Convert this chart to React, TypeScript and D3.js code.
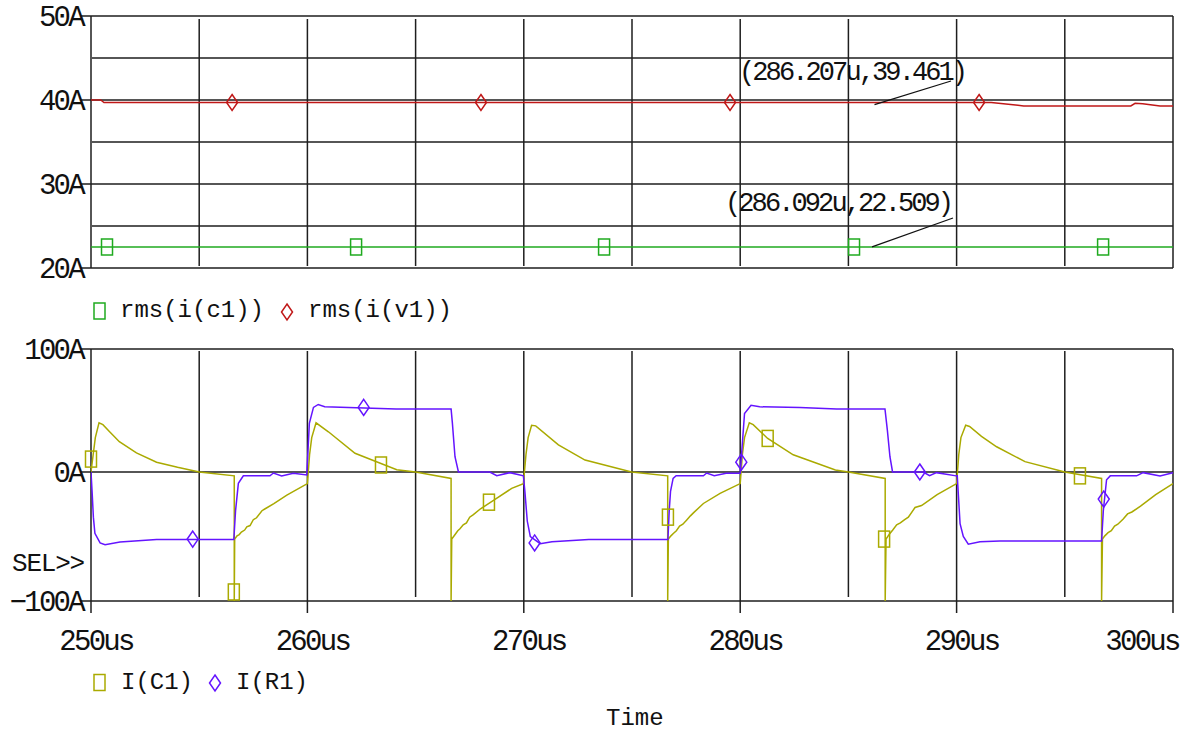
import React from 'react';
import * as d3 from 'd3';

// ---- data (time in us, current in A) ----
const rmsC1: [number, number][] = [
  [250, 22.5], [300, 22.5],
];
const rmsV1: [number, number][] = [
  [250, 40.0], [250.45, 40.0], [250.6, 39.7], [291.6, 39.7], [293.1, 39.3],
  [298.05, 39.3], [298.25, 39.6], [298.6, 39.55], [299.4, 39.3], [300, 39.3],
];
const rmsC1Markers: [number, number][] = [
  [250.74, 22.5], [262.25, 22.5], [273.71, 22.5], [285.26, 22.5], [296.77, 22.5],
];
const rmsV1Markers: [number, number][] = [
  [256.52, 39.7], [268.02, 39.7], [279.53, 39.7], [291.04, 39.7],
];

const iC1: [number, number][] = [
  // 250-260
  [250, 0], [250.1, 14], [250.2, 28], [250.37, 40], [250.55, 38.5], [250.85, 33],
  [251.31, 24.6], [252.1, 15.5], [253.03, 7.9], [254.0, 3.8], [255.0, 0], [256.62, -3],
  [256.62, -100], [256.64, -52], [256.75, -49.5], [256.85, -48.5], [256.95, -46.5],
  [257.1, -45], [257.2, -42.5], [257.35, -41.5], [257.5, -37], [257.65, -35.5],
  [257.9, -30], [258.05, -28.5], [258.45, -24.5], [259.05, -18], [260.0, -9],
  // 260-270
  [260.1, 14], [260.2, 28], [260.4, 40], [260.97, 32.7], [262.2, 15.2], [264.13, 1.9],
  [265.0, 0], [266.64, -5], [266.64, -100], [266.67, -52], [266.8, -49], [266.95, -45.5],
  [267.05, -44], [267.2, -41], [267.35, -39.5], [267.5, -35], [267.67, -33],
  [268.0, -28.5], [268.6, -22], [269.44, -12.7], [269.98, -9],
  // 270-280
  [270.1, 14], [270.2, 28], [270.36, 38], [270.55, 37.5], [271.6, 22], [272.83, 9.7],
  [274.98, 0], [276.65, -3], [276.65, -100], [276.68, -52], [276.8, -49.5],
  [276.91, -47.7], [277.05, -45.5], [277.2, -42], [277.35, -40.5], [277.52, -37.4],
  [277.7, -34], [277.85, -31.5], [278.3, -24.4], [279.07, -16.6], [280.0, -9],
  // 280-290
  [280.1, 14], [280.2, 28], [280.42, 40], [280.6, 38.5], [281.27, 27.3], [282.45, 14],
  [284.4, 1.6], [285.0, 0], [286.7, -5], [286.7, -100], [286.74, -52], [286.9, -48],
  [287.05, -45], [287.23, -41], [287.4, -39.5], [287.6, -37], [287.77, -35],
  [288.08, -27.5], [288.38, -26], [289.1, -17.5], [290.0, -9],
  // 290-300
  [290.1, 14], [290.2, 28], [290.42, 38], [290.6, 37], [291.15, 29], [291.85, 20.5],
  [293.16, 8.4], [295.0, 0], [296.7, -5], [296.7, -100], [296.74, -52], [296.85, -49.5],
  [297.0, -47], [297.15, -45.5], [297.3, -42], [297.45, -40.5], [297.7, -36.5],
  [297.9, -32.5], [298.1, -31], [298.5, -26.5], [299.2, -17.5], [300.0, -9],
];

const iR1: [number, number][] = [
  // 250-270
  [250, 0], [250.05, -15], [250.11, -35], [250.18, -47.5], [250.42, -55], [250.65, -56.3],
  [251.34, -54.2], [253.03, -52.4], [256.6, -52.4], [256.68, -30], [256.73, -21.8],
  [256.81, -8.8], [257.04, -3], [258.27, -3], [258.43, -0.8], [258.81, -3], [259.35, -1],
  [259.97, -2.3], [260.09, 39.5], [260.28, 52.5], [260.5, 54.9], [260.8, 53],
  [264.1, 51.3], [266.64, 51.3], [266.7, 39.7], [266.82, 12.4], [266.98, 0],
  [268.43, 0], [268.75, -2.9], [269.36, -0.5], [269.98, -2.9],
  // 270-290
  [270.05, -15], [270.16, -38], [270.3, -50], [270.76, -55.6], [271.3, -54],
  [273.0, -52.4], [276.66, -52.4], [276.72, -30], [276.78, -15], [276.9, -5],
  [277.04, -2.9], [278.3, -2.9], [278.45, -0.8], [278.8, -2.9], [279.35, -1],
  [280.0, -1], [280.2, 47.6], [280.5, 54.3], [280.9, 53], [282.76, 52.5],
  [284.46, 51.3], [286.69, 51.3], [286.8, 34], [286.92, 12.4], [287.04, 0],
  [288.46, 0], [288.75, -2.9], [289.07, -0.5], [289.98, -3],
  // 290-300
  [290.03, -3], [290.16, -40], [290.31, -50], [290.54, -56], [291.08, -54],
  [292.0, -53.4], [296.7, -53.4], [296.78, -30], [296.93, -6], [297.1, -3],
  [298.32, -3], [298.62, -0.5], [299.4, -3], [300.0, -0.5],
];

const iC1Markers: [number, number][] = [
  [250.0, 10.5], [256.6, -93], [263.4, 5.7], [268.39, -23.4],
  [276.66, -35], [281.27, 27.3], [286.65, -52], [295.7, -3],
];
const iR1Markers: [number, number][] = [
  [254.7, -52], [262.6, 52.5], [270.5, -55], [280.05, 8], [288.3, 0], [296.8, -21],
];

const topTicks = [20, 30, 40, 50];
const topMinorTicks = [25, 35, 45];
const botTicks = [-100, 0, 100];
const timeTicks = [250, 260, 270, 280, 290, 300];
const timeGrid = [255, 260, 265, 270, 275, 280, 285, 290, 295];

const cursorNotes = [
  { label: '(286.207u,39.461)', t: 286.207, v: 39.461, tx: 739, ty: 80, lx: 951, ly: 81 },
  { label: '(286.092u,22.509)', t: 286.092, v: 22.509, tx: 725, ty: 211, lx: 953, ly: 218 },
];

// ---- styling ----
const W = 1187;
const H = 733;
const GREEN = '#1faa1f';
const RED = '#c01818';
const OLIVE = '#aaaa00';
const BLUE = '#6414ff';
const GRID = '#1e1e1e';
const FONT = '"Liberation Mono", "DejaVu Sans Mono", monospace';

const x = d3.scaleLinear().domain([250, 300]).range([91, 1173]);
const yTop = d3.scaleLinear().domain([20, 50]).range([268, 16]);
const yBot = d3.scaleLinear().domain([-100, 0, 100]).range([601, 472, 349]);

const Square = ({ cx, cy, color }: { cx: number; cy: number; color: string }) => (
  <rect x={cx - 5.5} y={cy - 8} width={11} height={16} fill="none" stroke={color} strokeWidth={1.5} />
);
const Diamond = ({ cx, cy, color }: { cx: number; cy: number; color: string }) => (
  <path d={`M${cx},${cy - 8}L${cx + 5.5},${cy}L${cx},${cy + 8}L${cx - 5.5},${cy}Z`} fill="none" stroke={color} strokeWidth={1.5} />
);

const axisText = { fontFamily: FONT, fontSize: 29, letterSpacing: -2.7, fill: '#111' } as const;

export default function App() {
  const lineTop = d3.line<[number, number]>().x(d => x(d[0])).y(d => yTop(d[1]));
  const lineBot = d3.line<[number, number]>().x(d => x(d[0])).y(d => yBot(d[1]));

  return (
    <svg width={W} height={H} style={{ position: 'absolute', left: 0, top: 0, background: '#fff' }}>
      <defs>
        <clipPath id="clipTop"><rect x={91} y={16} width={1082} height={252} /></clipPath>
        <clipPath id="clipBot"><rect x={91} y={349} width={1082} height={252} /></clipPath>
      </defs>

      {/* ---------- top plot ---------- */}
      <g stroke={GRID} strokeWidth={1.5}>
        {topTicks.map(v => (
          <line key={v} x1={81} x2={1173} y1={yTop(v)} y2={yTop(v)} />
        ))}
        {topMinorTicks.map(v => (
          <line key={v} x1={92} x2={1173} y1={yTop(v)} y2={yTop(v)} />
        ))}
        {timeGrid.map(t => (
          <line key={t} x1={x(t)} x2={x(t)} y1={19} y2={266} />
        ))}
        <line x1={x(250)} x2={x(250)} y1={16} y2={268} />
        <line x1={x(300)} x2={x(300)} y1={16} y2={268} />
      </g>
      {topTicks.map(v => (
        <text key={v} x={83} y={yTop(v) + 10} textAnchor="end" style={axisText}>{v}A</text>
      ))}

      <g clipPath="url(#clipTop)" fill="none" strokeWidth={1.5}>
        <path d={lineTop(rmsC1) || ''} stroke={GREEN} />
        <path d={lineTop(rmsV1) || ''} stroke={RED} />
      </g>
      {rmsC1Markers.map((d, i) => <Square key={i} cx={x(d[0])} cy={yTop(d[1])} color={GREEN} />)}
      {rmsV1Markers.map((d, i) => <Diamond key={i} cx={x(d[0])} cy={yTop(d[1])} color={RED} />)}

      {cursorNotes.map(n => (
        <g key={n.label}>
          <line x1={x(n.t)} y1={yTop(n.v)} x2={n.lx} y2={n.ly} stroke="#111" strokeWidth={1.3} />
          <text x={n.tx} y={n.ty} style={{ fontFamily: FONT, fontSize: 27, letterSpacing: -2.9, fill: '#111' }}>{n.label}</text>
        </g>
      ))}

      {/* top legend */}
      <g style={{ fontFamily: FONT, fontSize: 24, fill: '#111' }}>
        <Square cx={99.5} cy={311} color={GREEN} />
        <text x={120} y={317}>rms(i(c1))</text>
        <Diamond cx={287} cy={312} color={RED} />
        <text x={308} y={317}>rms(i(v1))</text>
      </g>

      {/* ---------- bottom plot ---------- */}
      <g stroke={GRID} strokeWidth={1.5}>
        {botTicks.map(v => (
          <line key={v} x1={81} x2={1173} y1={yBot(v)} y2={yBot(v)} />
        ))}
        {timeGrid.map(t => (
          <line key={t} x1={x(t)} x2={x(t)} y1={351} y2={timeTicks.includes(t) ? 613 : 597} />
        ))}
        <line x1={x(250)} x2={x(250)} y1={349} y2={613} />
        <line x1={x(300)} x2={x(300)} y1={349} y2={613} />
      </g>
      {botTicks.map(v => (
        <text key={v} x={83} y={yBot(v) + 10} textAnchor="end" style={axisText}>{v < 0 ? '\u2212' + Math.abs(v) : v}A</text>
      ))}
      <text x={12} y={571} style={{ fontFamily: FONT, fontSize: 26, letterSpacing: -1.2, fill: '#111' }}>SEL&gt;&gt;</text>

      <g clipPath="url(#clipBot)" fill="none" strokeWidth={1.5}>
        <path d={lineBot(iC1) || ''} stroke={OLIVE} />
        <path d={lineBot(iR1) || ''} stroke={BLUE} />
      </g>
      {iC1Markers.map((d, i) => <Square key={i} cx={x(d[0])} cy={yBot(d[1])} color={OLIVE} />)}
      {iR1Markers.map((d, i) => <Diamond key={i} cx={x(d[0])} cy={yBot(d[1])} color={BLUE} />)}

      {timeTicks.map(t => (
        <text key={t} x={Math.min(x(t) + 5, 1142)} y={650} textAnchor="middle" style={axisText}>{t}us</text>
      ))}

      {/* bottom legend */}
      <g style={{ fontFamily: FONT, fontSize: 24, fill: '#111' }}>
        <Square cx={99.5} cy={682.5} color={OLIVE} />
        <text x={121} y={689}>I(C1)</text>
        <Diamond cx={215} cy={683} color={BLUE} />
        <text x={236} y={689}>I(R1)</text>
        <text x={606} y={725}>Time</text>
      </g>
    </svg>
  );
}
